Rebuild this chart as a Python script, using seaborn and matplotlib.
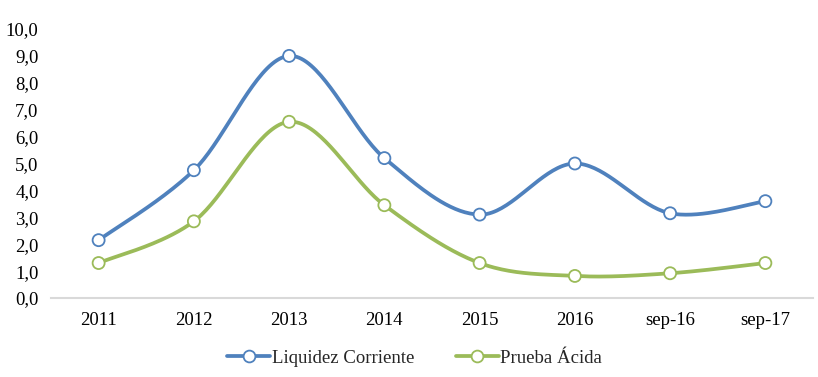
import numpy as np
import pandas as pd
import seaborn as sns
import matplotlib
matplotlib.use("Agg")
import matplotlib.pyplot as plt
from matplotlib.lines import Line2D

categories = ["2011", "2012", "2013", "2014", "2015", "2016", "sep-16", "sep-17"]
liquidez = [2.15, 4.75, 9.0, 5.2, 3.1, 5.0, 3.15, 3.6]
prueba = [1.3, 2.85, 6.55, 3.45, 1.3, 0.82, 0.92, 1.3]
yticks = [0, 1, 2, 3, 4, 5, 6, 7, 8, 9, 10]

BLUE = "#4F81BD"
GREEN = "#9BBB59"

sns.set_theme(style="white")
plt.rcParams["font.family"] = ["Liberation Serif", "DejaVu Serif"]

fig = plt.figure(figsize=(8.18, 3.77), dpi=100)
ax = fig.add_axes([51 / 818, 1 - 298 / 377, (813 - 51) / 818, (298 - 29) / 377])

def smooth(xs, ys, n=40):
    p = np.column_stack([xs, ys]).astype(float)
    ext = np.vstack([p[0], p, p[-1]])
    out = []
    t = np.linspace(0, 1, n)[:, None]
    for i in range(len(p) - 1):
        p0, p3 = ext[i + 1], ext[i + 2]
        c1 = p0 + (ext[i + 2] - ext[i]) / 6
        c2 = p3 - (ext[i + 3] - ext[i + 1]) / 6
        seg = ((1 - t) ** 3) * p0 + 3 * ((1 - t) ** 2) * t * c1 + 3 * (1 - t) * t ** 2 * c2 + t ** 3 * p3
        out.append(seg if i == 0 else seg[1:])
    s = np.vstack(out)
    return s[:, 0], s[:, 1]

x = np.arange(len(categories))
df = pd.DataFrame({
    "x": np.concatenate([x, x]),
    "v": liquidez + prueba,
    "serie": ["Liquidez Corriente"] * len(x) + ["Prueba Ácida"] * len(x),
})

for vals, col in [(liquidez, BLUE), (prueba, GREEN)]:
    sx, sy = smooth(x, vals)
    ax.plot(sx, sy, color=col, lw=2.7, solid_capstyle="round", zorder=2)

sns.scatterplot(data=df, x="x", y="v", hue="serie", palette=[BLUE, GREEN],
                ax=ax, s=75, facecolor="white", legend=False, zorder=3)
coll = ax.collections[-1]
coll.set_facecolor("white")
coll.set_edgecolor([BLUE] * len(x) + [GREEN] * len(x))
coll.set_linewidth(1.3)

ax.set_xlim(-0.5, len(categories) - 0.5)
ax.set_ylim(0, 10)
ax.set_xticks(x)
ax.set_xticklabels(categories)
ax.set_yticks(yticks)
ax.set_yticklabels([f"{v:.1f}".replace(".", ",") for v in yticks])
ax.set_xlabel("")
ax.set_ylabel("")
ax.tick_params(axis="both", length=0, labelsize=13.5, colors="black")
ax.tick_params(axis="x", pad=10)
ax.tick_params(axis="y", pad=9)
for s in ["top", "right", "left"]:
    ax.spines[s].set_visible(False)
ax.spines["bottom"].set_color("#D9D9D9")
ax.spines["bottom"].set_linewidth(1.5)
ax.grid(False)

handles = [
    Line2D([], [], color=BLUE, lw=2.7, marker="o", markersize=8.5, markerfacecolor="white",
           markeredgecolor=BLUE, markeredgewidth=1.3),
    Line2D([], [], color=GREEN, lw=2.7, marker="o", markersize=8.5, markerfacecolor="white",
           markeredgecolor=GREEN, markeredgewidth=1.3),
]
fig.legend(handles, ["Liquidez Corriente", "Prueba Ácida"], loc="center",
           bbox_to_anchor=(0.507, 1 - 358 / 377), ncol=2, frameon=False, fontsize=13.5,
           handlelength=2.3, handletextpad=0.08, columnspacing=2.2)

fig.savefig("out.png", dpi=100, facecolor="white")
